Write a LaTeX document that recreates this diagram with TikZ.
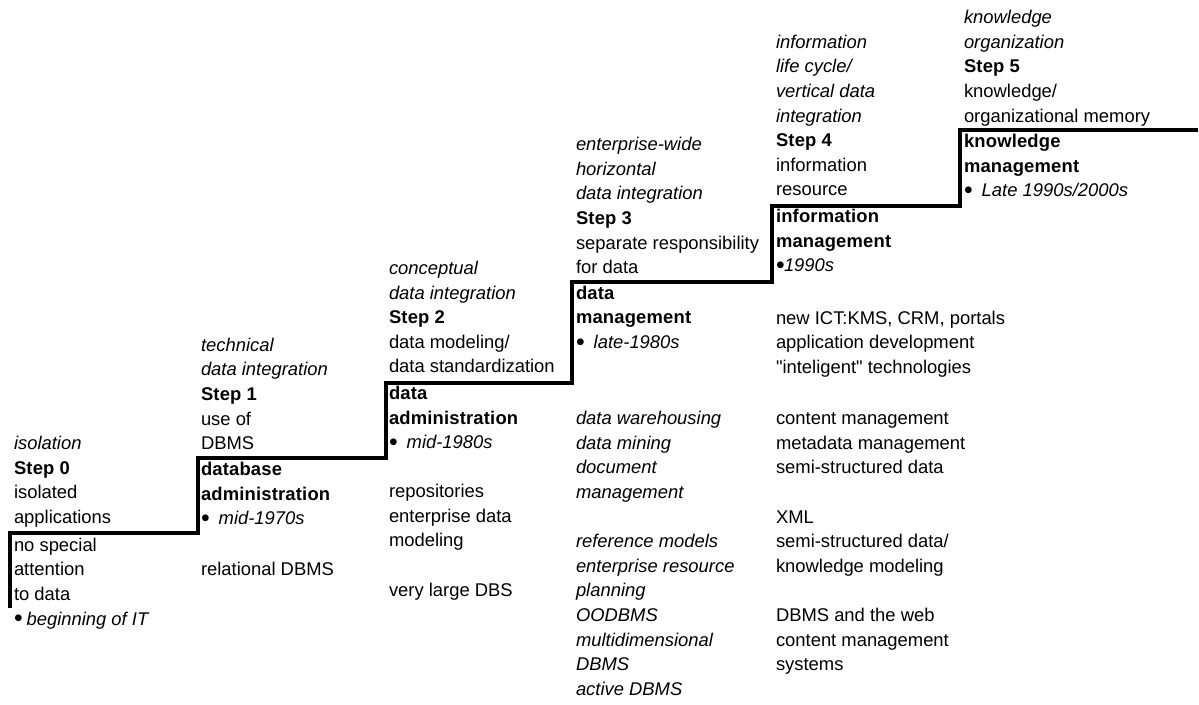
\documentclass[tikz,border=0pt]{standalone}
\usepackage{graphicx}
\usepackage{fontspec}
\setmainfont{Liberation Sans}[Ligatures=TeXOff, BoldFeatures={LetterSpace=1}]
\newcommand\fs{\fontsize{18.4}{24.6}\selectfont}
\newcommand\bigdot{\raisebox{-1.8pt}{\scalebox{1.35}{•}}}
\newcommand\bul{\makebox[12.6pt][l]{\bigdot}}
\tikzset{
  blk/.style={anchor=north west, inner sep=0pt, outer sep=0pt, align=left, font=\fs},
  stair/.style={line width=3.2pt, line join=miter, draw=black}
}
\begin{document}
\begin{tikzpicture}[x=1pt,y=-1pt]
\path[use as bounding box] (0,0) rectangle (1199,704);

% staircase
\coordinate (s0) at (10,608);
\coordinate (s1) at (10,533);
\coordinate (s2) at (198,533);
\coordinate (s3) at (198,458);
\coordinate (s4) at (386,458);
\coordinate (s5) at (386,383);
\coordinate (s6) at (572,383);
\coordinate (s7) at (572,282);
\coordinate (s8) at (772,282);
\coordinate (s9) at (772,206);
\coordinate (s10) at (960,206);
\coordinate (s11) at (960,130);
\coordinate (s12) at (1198,130);
\draw[stair] (s0) -- (s1) -- (s2) -- (s3) -- (s4) -- (s5) -- (s6) -- (s7) -- (s8) -- (s9) -- (s10) -- (s11) -- (s12);

% column 0
\node[blk] (c0up) at (14,432.5) {\strut\textit{isolation}\\\textbf{Step 0}\\isolated\\applications};
\node[blk] (c0box) at (14,534) {\strut no special\\attention\\to data\\\bul\textit{beginning of IT}};

% column 1
\node[blk] (c1up) at (201,334) {\strut\textit{technical}\\\textit{data integration}\\\textbf{Step 1}\\use of\\DBMS};
\node[blk] (c1box) at (201,458.5) {\strut\textbf{database}\\\textbf{administration}\\\bul\ \textit{mid-1970s}};
\node[blk] (c1low) at (201,558.5) {\strut relational DBMS};

% column 2
\node[blk] (c2up) at (389,257.2) {\strut\textit{conceptual}\\\textit{data integration}\\\textbf{Step 2}\\data modeling/\\data standardization};
\node[blk] (c2box) at (389,382.3) {\strut\textbf{data}\\\textbf{administration}\\\bul\ \textit{mid-1980s}};
\node[blk] (c2low) at (389,480.5) {\strut repositories\\enterprise data\\modeling\\\strut\\very large DBS};

% column 3
\node[blk] (c3up) at (576,133.5) {\strut\textit{enterprise-wide}\\\textit{horizontal}\\\textit{data integration}\\\textbf{Step 3}\\separate responsibility\\for data};
\node[blk] (c3box) at (576,282) {\strut\textbf{data}\\\textbf{management}\\\bul\ \textit{late-1980s}};
\node[blk, font=\fs\itshape] (c3low) at (576,407.5) {\strut data warehousing\\data mining\\document\\management\\\strut\\reference models\\enterprise resource\\planning\\OODBMS\\multidimensional\\DBMS\\active DBMS};

% column 4
\node[blk] (c4up) at (776,31) {\strut\textit{information}\\\textit{life cycle/}\\\textit{vertical data}\\\textit{integration}\\\textbf{Step 4}\\information\\resource};
\node[blk] (c4box) at (776,205.5) {\strut\textbf{information}\\\textbf{management}\\\makebox[8pt][l]{\bigdot}\textit{1990s}};
\node[blk] (c4mid) at (776,306.8) {\strut new ICT:KMS, CRM, portals\\application development\\"inteligent" technologies};
\node[blk] (c4low) at (776,407.5) {\strut content management\\metadata management\\semi-structured data\\\strut\\XML\\semi-structured data/\\knowledge modeling\\\strut\\DBMS and the web\\content management\\systems};

% column 5
\node[blk] (c5up) at (964,6.5) {\strut\textit{knowledge}\\\textit{organization}\\\textbf{Step 5}\\knowledge/\\organizational memory};
\node[blk] (c5box) at (964,130.5) {\strut\textbf{knowledge}\\\textbf{management}\\\bul\ \textit{Late 1990s/2000s}};
\end{tikzpicture}
\end{document}
